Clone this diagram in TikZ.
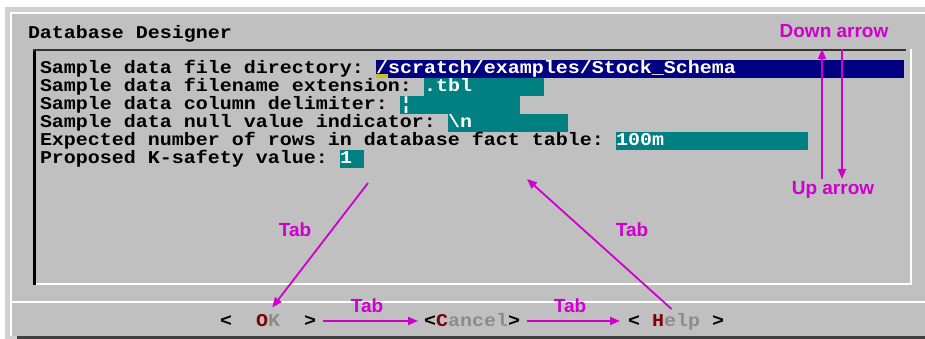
\documentclass[tikz,border=0pt]{standalone}
\usepackage{fontspec}
\usepackage{tikz}
\usetikzlibrary{arrows.meta}
\setmainfont{Liberation Sans}
\newfontfamily\dosfont[FakeStretch=1.111]{Liberation Mono}
\definecolor{panel}{RGB}{192,192,192}
\definecolor{rim}{RGB}{208,208,208}
\definecolor{navybar}{RGB}{0,0,128}
\definecolor{tealbar}{RGB}{0,128,128}
\definecolor{hot}{RGB}{128,0,0}
\definecolor{dim}{RGB}{140,140,140}
\definecolor{pink}{RGB}{205,0,205}
\definecolor{cursor}{RGB}{200,190,40}

\begin{document}
\begin{tikzpicture}[
		x=1pt, y=-1pt,
		every node/.style={inner sep=0pt, outer sep=0pt},
		txt/.style={font=\dosfont\bfseries\fontsize{18}{18}\selectfont, anchor=base west},
		field/.style={txt, fill=#1, text=white, anchor=north west, minimum height=18pt, text height=14pt, text depth=4pt, align=left},
		btn/.style={txt, text height=13pt, text depth=3pt},
		key/.style={text=pink, font=\bfseries\fontsize{19}{19}\selectfont},
		tab/.style={draw=pink, line width=1.8pt, -{Triangle[length=10pt,width=8pt]}}
		]
		\useasboundingbox (0,0) rectangle (925,339);
		\fill[white] (0,0) rectangle (925,339);
		\fill[rim] (5,7) rectangle (925,339);
		\fill[panel] (10,12) rectangle (925,336);
		\draw[white, line width=2pt] (11,336) -- (11,13) -- (925,13);
		\draw[white, line width=2pt] (12,302) -- (925,302);
		\draw[black!75, line width=3pt] (17,337.5) -- (925,337.5);
		\draw[black, line width=3pt] (34.5,285) -- (34.5,50);
		\draw[black!80, line width=1.5pt] (33,50) -- (906,50);
		\draw[white, line width=2pt] (36,284) -- (911,284) -- (911,49);
		
		\node[txt] (title) at (28,39) {Database Designer};
		
		\node[txt] (l1) at (40,74) {Sample data file directory:};
		\node[field=navybar, text width=528pt] (f1) at (376,60) {/scratch/examples/Stock\_Schema};
		\node[txt] (l2) at (40,92) {Sample data filename extension:};
		\node[field=tealbar, text width=120pt] (f2) at (424,78) {.tbl};
		\node[txt] (l3) at (40,110) {Sample data column delimiter:};
		\node[field=tealbar, text width=120pt] (f3) at (400,96) {¦};
		\node[txt] (l4) at (40,128) {Sample data null value indicator:};
		\node[field=tealbar, text width=120pt] (f4) at (448,114) {\textbackslash n};
		\node[txt] (l5) at (40,146) {Expected number of rows in database fact table:};
		\node[field=tealbar, text width=192pt] (f5) at (616,132) {100m};
		\node[txt] (l6) at (40,164) {Proposed K-safety value:};
		\node[field=tealbar, text width=24pt] (f6) at (340,150) {1};
		\fill[cursor] (376,74) rectangle (388,78);
		
		\node[btn] (ok) at (220,326) {<~~\textcolor{hot}{O}\textcolor{dim}{K}~~>};
		\node[btn] (cancel) at (424,326) {<\textcolor{hot}{C}\textcolor{dim}{ancel}>};
		\node[btn] (help) at (628,326) {<~\textcolor{hot}{H}\textcolor{dim}{elp}~>};
		
		\node[key] (down) at (834,31) {Down arrow};
		\node[key] (up) at (833,190) {Up arrow};
		\coordinate (upfoot) at (822,179);
		\coordinate (uphead) at (822,49);
		\coordinate (downtop) at (842,49);
		\coordinate (downfoot) at (842,179);
		\draw[tab] (upfoot) -- (uphead);
		\draw[tab] (downtop) -- (downfoot);
		
		\node[key] (t1) at (295,230) {Tab};
		\node[key] (t2) at (367,306) {Tab};
		\node[key] (t3) at (570,306) {Tab};
		\node[key] (t4) at (632,230) {Tab};
		\coordinate (fromk) at (368,183);
		\coordinate (tok) at (527,179);
		\draw[tab, shorten >=7pt] (fromk) -- (ok.north);
		\draw[tab, shorten <=7pt, shorten >=6pt] (ok.east) -- (cancel.west);
		\draw[tab, shorten <=7pt, shorten >=8pt] (cancel.east) -- (cancel.east -| help.west);
		\draw[tab, shorten <=6pt] (help.north) -- (tok);
\end{tikzpicture}
\end{document}
